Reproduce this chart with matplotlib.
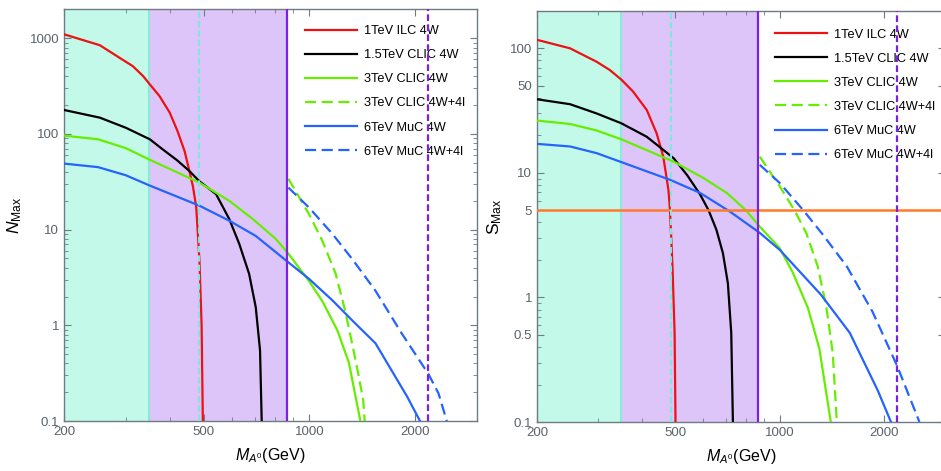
import numpy as np
import matplotlib
matplotlib.use("Agg")
import matplotlib.pyplot as plt
from matplotlib.ticker import FixedLocator, FixedFormatter, LogLocator, NullFormatter

plt.rcParams['font.family'] = ['Liberation Sans', 'DejaVu Sans']
plt.rcParams['mathtext.fontset'] = 'custom'
plt.rcParams['mathtext.rm'] = 'Liberation Sans'
plt.rcParams['mathtext.it'] = 'Liberation Sans:italic'

# ---- data (mass in GeV) ----
# left panel: N_Max
red_N_M = [200, 253, 288, 314, 336, 351, 374, 400, 421, 441, 455, 466, 476, 486, 493, 497]
red_N = [1100, 845, 624, 511, 402, 330, 249, 167, 107, 66, 41, 28, 17, 4.8, 1.0, 0.1]
black_N_M = [200, 253, 300, 351, 382, 420, 455, 486, 542, 591, 631, 673, 703, 723, 731]
black_N = [178, 148, 116, 88, 69, 53, 41, 32, 23.5, 12.9, 7.1, 3.46, 1.55, 0.55, 0.1]
green_N_M = [200, 250, 300, 350, 486, 591, 688, 802, 871, 997, 1087, 1200, 1294, 1396]
green_N = [96, 88, 71, 54, 31, 20, 13, 8, 5.6, 2.9, 1.8, 0.89, 0.41, 0.1]
green4l_N_M = [871, 997, 1087, 1186, 1263, 1322, 1377, 1422, 1436]
green4l_N = [34, 14.5, 7.7, 3.5, 1.43, 0.65, 0.31, 0.166, 0.1]
blue_N_M = [200, 250, 300, 350, 486, 591, 703, 871, 997, 1163, 1322, 1541, 1897, 2064]
blue_N = [49, 45, 37, 29, 17.8, 12.4, 8.6, 4.55, 3.06, 1.82, 1.13, 0.65, 0.18, 0.1]
blue4l_N_M = [871, 997, 1163, 1322, 1541, 1832, 2181, 2329, 2460]
blue4l_N = [27.5, 17, 9, 4.95, 2.3, 0.82, 0.31, 0.195, 0.1]

# right panel: S_Max
red_S_M = [200, 249, 297, 324, 350, 378, 414, 442, 462, 478, 483, 491, 498, 501]
red_S = [117, 100, 78, 67, 56, 45, 32, 20.8, 13.5, 7.3, 5, 1.78, 0.52, 0.1]
black_S_M = [200, 249, 297, 350, 414, 462, 495, 541, 590, 624, 657, 686, 709, 725, 733]
black_S = [39, 35.6, 30, 25, 19.5, 15.3, 13.1, 9.6, 6.7, 5.0, 3.5, 2.27, 1.3, 0.52, 0.1]
green_S_M = [200, 249, 297, 350, 495, 603, 704, 800, 876, 1000, 1092, 1206, 1300, 1403]
green_S = [26.3, 24.7, 21.9, 18.6, 12.3, 9.1, 6.9, 5.0, 3.7, 2.49, 1.57, 0.82, 0.39, 0.1]
green4l_S_M = [876, 1000, 1103, 1192, 1286, 1361, 1421, 1460]
green4l_S = [13.5, 7.8, 5.0, 3.3, 1.78, 0.85, 0.36, 0.1]
blue_S_M = [200, 249, 297, 350, 483, 590, 718, 876, 1000, 1315, 1591, 1914, 2091]
blue_S = [17.1, 16.3, 14.4, 12.2, 8.8, 6.9, 4.9, 3.3, 2.41, 1.05, 0.52, 0.18, 0.1]
blue4l_S_M = [876, 1000, 1170, 1330, 1559, 1849, 2181, 2525]
blue4l_S = [11.6, 8.3, 5.0, 3.2, 1.78, 0.77, 0.28, 0.1]

labels = ["1TeV ILC 4W", "1.5TeV CLIC 4W", "3TeV CLIC 4W",
          "3TeV CLIC 4W+4l", "6TeV MuC 4W", "6TeV MuC 4W+4l"]

# regions / reference lines
teal_band = (200, 350)
purple_band = (350, 865)
cyan_line = 486
purple_dash_line = 2180
s_threshold = 5

RED, BLACK, GREEN, BLUE = "#ee1111", "#000000", "#66ee00", "#2563ff"
TEAL, PURPLE = "#c3f9e8", "#dec5f9"
VIOLET = "#7a22e0"
FRAME = "#6f7b82"
TXT = "#59636a"


def style_axes(ax, ymajor, ylabels, ylim):
    ax.set_xscale("log")
    ax.set_yscale("log")
    ax.set_xlim(200, 3000)
    ax.set_ylim(*ylim)
    ax.xaxis.set_major_locator(FixedLocator([200, 500, 1000, 2000]))
    ax.xaxis.set_major_formatter(FixedFormatter(["200", "500", "1000", "2000"]))
    ax.xaxis.set_minor_locator(LogLocator(base=10, subs=np.arange(1, 10)))
    ax.xaxis.set_minor_formatter(NullFormatter())
    ax.yaxis.set_major_locator(FixedLocator(ymajor))
    ax.yaxis.set_major_formatter(FixedFormatter(ylabels))
    ax.yaxis.set_minor_locator(LogLocator(base=10, subs=np.arange(1, 10)))
    ax.yaxis.set_minor_formatter(NullFormatter())
    ax.tick_params(which="both", direction="in", top=True, right=True,
                   color=FRAME, labelcolor=TXT, labelsize=9.5)
    ax.tick_params(which="major", length=5, width=0.8)
    ax.tick_params(which="minor", length=3, width=0.6)
    for s in ax.spines.values():
        s.set_color(FRAME)
        s.set_linewidth(1.0)
    ax.set_xlabel(r"$M_{A^0}$(GeV)", fontsize=11.5, labelpad=6)


def draw_panel(ax, curves):
    ax.axvspan(*teal_band, color=TEAL, lw=0, zorder=0)
    ax.axvspan(*purple_band, color=PURPLE, lw=0, zorder=0)
    ax.axvline(teal_band[1], color="#86ecd8", lw=1.5, zorder=1)
    lines = []
    for (m, v), col, ls in zip(curves,
                               [RED, BLACK, GREEN, GREEN, BLUE, BLUE],
                               ["-", "-", "-", "--", "-", "--"]):
        ln, = ax.plot(m, v, color=col, lw=1.6, zorder=3)
        if ls == "--":
            ln.set_dashes((5, 2.5))
        lines.append(ln)
    ax.axvline(cyan_line, color="#7fe6e2", lw=1.5, dashes=(3, 1.5), zorder=6)
    ax.axvline(purple_band[1], color=VIOLET, lw=1.6, zorder=6)
    ax.axvline(purple_dash_line, color=VIOLET, lw=1.6, dashes=(3, 1.5), zorder=6)
    return lines


def add_legend(ax, lines, anchor):
    ax.legend(lines, labels, loc="upper left", bbox_to_anchor=anchor, frameon=False,
              fontsize=9.2, handlelength=4.05, handletextpad=0.55, labelspacing=0.95,
              borderpad=0, borderaxespad=0)


fig = plt.figure(figsize=(9.41, 4.71), dpi=100)
ax1 = fig.add_axes([0.068, 0.106, 0.439, 0.874])
ax2 = fig.add_axes([0.5707, 0.104, 0.434, 0.873])

lines = draw_panel(ax1, [(red_N_M, red_N), (black_N_M, black_N), (green_N_M, green_N),
                         (green4l_N_M, green4l_N), (blue_N_M, blue_N), (blue4l_N_M, blue4l_N)])
style_axes(ax1, [0.1, 1, 10, 100, 1000], ["0.1", "1", "10", "100", "1000"], (0.1, 2000))
ax1.set_ylabel(r"$N_{\mathrm{Max}}$", fontsize=12.5, labelpad=4)
add_legend(ax1, lines, (0.5835, 0.962))

lines = draw_panel(ax2, [(red_S_M, red_S), (black_S_M, black_S), (green_S_M, green_S),
                         (green4l_S_M, green4l_S), (blue_S_M, blue_S), (blue4l_S_M, blue4l_S)])
ax2.axhline(s_threshold, color="#ff7a2a", lw=1.8, zorder=4)
style_axes(ax2, [0.1, 0.5, 1, 5, 10, 50, 100],
           ["0.1", "0.5", "1", "5", "10", "50", "100"], (0.1, 200))
ax2.set_ylabel(r"$\mathrm{S}_{\mathrm{Max}}$", fontsize=12.5, labelpad=4)
add_legend(ax2, lines, (0.583, 0.957))

fig.savefig("out.png", dpi=100)
